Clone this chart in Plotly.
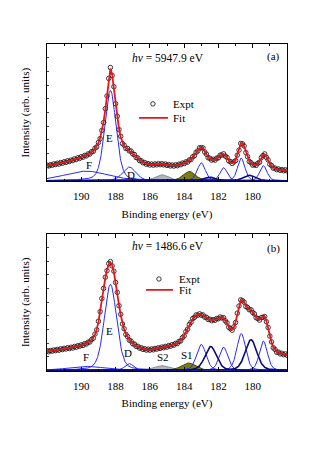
import numpy as np
import plotly.graph_objects as go
from plotly.subplots import make_subplots

# ---------------- data ----------------
energies = [round(192.0 - 0.1 * i, 1) for i in range(141)]

fit_a = [0.110,0.112,0.114,0.117,0.119,0.122,0.124,0.127,0.129,0.132,
         0.135,0.138,0.141,0.144,0.148,0.152,0.156,0.160,0.164,0.168,
         0.172,0.176,0.181,0.186,0.192,0.199,0.208,0.219,0.233,0.251,
         0.276,0.312,0.362,0.430,0.520,0.625,0.740,0.820,0.775,0.680,
         0.570,0.465,0.380,0.318,0.278,0.254,0.240,0.230,0.222,0.212,
         0.200,0.187,0.174,0.162,0.151,0.142,0.135,0.129,0.124,0.121,
         0.119,0.118,0.118,0.119,0.120,0.121,0.121,0.121,0.120,0.118,
         0.116,0.114,0.112,0.111,0.111,0.112,0.114,0.117,0.121,0.125,
         0.129,0.134,0.140,0.148,0.158,0.171,0.187,0.204,0.222,0.237,
         0.244,0.236,0.214,0.190,0.172,0.161,0.155,0.153,0.155,0.161,
         0.171,0.183,0.192,0.193,0.184,0.167,0.149,0.136,0.130,0.134,
         0.151,0.183,0.228,0.268,0.274,0.250,0.210,0.172,0.145,0.128,
         0.118,0.114,0.116,0.124,0.140,0.165,0.188,0.192,0.175,0.148,
         0.124,0.107,0.096,0.089,0.085,0.082,0.080,0.078,0.077,0.076,
         0.075]

expt_a = [0.114,0.108,0.117,0.113,0.123,0.118,0.128,0.122,0.133,0.128,
          0.139,0.134,0.146,0.140,0.151,0.147,0.160,0.155,0.168,0.163,
          0.176,0.172,0.185,0.182,0.196,0.195,0.212,0.215,0.238,0.247,
          0.280,0.308,0.368,0.425,0.527,0.620,0.748,0.828,0.770,0.688,
          0.563,0.472,0.374,0.325,0.272,0.260,0.236,0.236,0.218,0.217,
          0.196,0.192,0.170,0.166,0.147,0.146,0.131,0.133,0.120,0.125,
          0.115,0.122,0.114,0.123,0.116,0.125,0.117,0.125,0.116,0.122,
          0.112,0.118,0.108,0.115,0.107,0.116,0.110,0.121,0.117,0.129,
          0.125,0.138,0.136,0.152,0.154,0.175,0.183,0.208,0.218,0.241,
          0.240,0.240,0.210,0.194,0.168,0.165,0.151,0.157,0.151,0.165,
          0.167,0.187,0.188,0.197,0.180,0.171,0.145,0.140,0.126,0.138,
          0.147,0.187,0.224,0.272,0.270,0.254,0.206,0.176,0.141,0.132,
          0.114,0.118,0.112,0.128,0.136,0.169,0.184,0.196,0.171,0.152,
          0.120,0.111,0.092,0.093,0.081,0.086,0.076,0.082,0.073,0.080,
          0.072]

fit_b = [0.140,0.141,0.143,0.144,0.146,0.148,0.150,0.152,0.154,0.156,
         0.158,0.160,0.162,0.164,0.166,0.168,0.171,0.174,0.177,0.180,
         0.183,0.187,0.192,0.197,0.203,0.211,0.222,0.238,0.262,0.300,
         0.355,0.435,0.520,0.605,0.675,0.735,0.775,0.790,0.770,0.720,
         0.650,0.565,0.480,0.405,0.345,0.300,0.268,0.244,0.226,0.211,
         0.199,0.189,0.180,0.173,0.167,0.162,0.158,0.155,0.153,0.152,
         0.152,0.153,0.155,0.157,0.160,0.162,0.165,0.167,0.170,0.172,
         0.175,0.178,0.181,0.185,0.189,0.194,0.200,0.208,0.220,0.236,
         0.256,0.280,0.306,0.332,0.356,0.376,0.392,0.402,0.408,0.410,
         0.408,0.402,0.394,0.385,0.377,0.371,0.368,0.368,0.371,0.376,
         0.382,0.387,0.388,0.382,0.367,0.345,0.320,0.302,0.298,0.315,
         0.355,0.415,0.475,0.512,0.515,0.495,0.472,0.457,0.448,0.440,
         0.428,0.410,0.390,0.375,0.372,0.382,0.393,0.390,0.360,0.310,
         0.255,0.205,0.170,0.150,0.137,0.130,0.125,0.122,0.119,0.117,
         0.115]

expt_b = [0.144,0.137,0.146,0.141,0.150,0.145,0.154,0.148,0.158,0.153,
          0.162,0.157,0.166,0.160,0.170,0.164,0.175,0.170,0.181,0.177,
          0.187,0.183,0.196,0.194,0.207,0.208,0.226,0.235,0.266,0.297,
          0.360,0.430,0.526,0.600,0.682,0.730,0.781,0.796,0.765,0.726,
          0.644,0.571,0.474,0.411,0.340,0.305,0.264,0.248,0.222,0.215,
          0.195,0.193,0.176,0.177,0.163,0.166,0.154,0.159,0.149,0.156,
          0.148,0.157,0.151,0.161,0.156,0.166,0.161,0.171,0.166,0.176,
          0.171,0.182,0.177,0.189,0.185,0.198,0.196,0.212,0.216,0.240,
          0.252,0.284,0.302,0.336,0.352,0.380,0.388,0.406,0.404,0.414,
          0.404,0.406,0.390,0.389,0.373,0.375,0.364,0.372,0.367,0.380,
          0.378,0.391,0.384,0.386,0.363,0.349,0.316,0.306,0.294,0.319,
          0.351,0.419,0.471,0.516,0.511,0.499,0.468,0.461,0.444,0.444,
          0.424,0.414,0.386,0.379,0.368,0.386,0.389,0.394,0.356,0.314,
          0.251,0.209,0.166,0.154,0.133,0.134,0.121,0.126,0.115,0.121,
          0.111]

# fitted component peaks: kind, centre (eV), height, FWHM (eV)
comp_kind = ["blue", "blue", "blue", "gray", "olive", "blue", "blue", "blue", "blue", "navy", "navy"]
comp_center_a = [189.7, 188.3, 187.2, 185.3, 183.7, 183.0, 181.7, 180.67, 179.38, 182.5, 180.2]
comp_height_a = [0.070, 0.660, 0.100, 0.044, 0.068, 0.130, 0.095, 0.165, 0.110, 0.025, 0.040]
comp_fwhm_a   = [3.0, 0.78, 0.9, 0.9, 0.85, 0.55, 0.5, 0.5, 0.5, 0.8, 0.8]

comp_center_b = [189.7, 188.3, 187.2, 185.3, 183.75, 183.0, 181.7, 180.67, 179.38, 182.45, 180.1]
comp_height_b = [0.030, 0.630, 0.050, 0.035, 0.055, 0.190, 0.170, 0.270, 0.215, 0.175, 0.225]
comp_fwhm_b   = [2.5, 0.85, 0.6, 1.1, 1.0, 0.65, 0.6, 0.6, 0.55, 0.8, 0.8]

photon_energy = ["5947.9", "1486.6"]
panel_tags = ["(a)", "(b)"]
peak_labels_a = [("F", 189.55, 0.117), ("E", 188.38, 0.314), ("D", 187.1, 0.044)]
peak_labels_b = [("F", 189.72, 0.10), ("E", 188.38, 0.29), ("D", 187.27, 0.124),
                 ("S2", 185.23, 0.095), ("S1", 183.83, 0.116)]

# ---------------- figure ----------------
FONT = "Liberation Serif"
fig = make_subplots(rows=2, cols=1, vertical_spacing=0.1604)

fine = np.linspace(192.0, 178.0, 701)

def pvoigt(x, c, h, w, eta=0.3):
    d = (x - c) / w
    return h * (eta / (1 + 4 * d * d) + (1 - eta) * np.exp(-4 * np.log(2) * d * d))

style = {
    "blue": dict(line=dict(color="#2a2af5", width=1.0)),
    "navy": dict(line=dict(color="#0a0a78", width=1.6)),
    "gray": dict(line=dict(color="#8a8a9a", width=1.0), fill="tozeroy", fillcolor="#b4b4bc"),
    "olive": dict(line=dict(color="#4a4a08", width=1.0), fill="tozeroy", fillcolor="#7c7c14"),
}

panels = [
    (comp_center_a, comp_height_a, comp_fwhm_a, expt_a, fit_a),
    (comp_center_b, comp_height_b, comp_fwhm_b, expt_b, fit_b),
]

for r, (cc, hh, ww, ex, ft) in enumerate(panels, start=1):
    for k, c, h, w in zip(comp_kind, cc, hh, ww):
        fig.add_trace(go.Scatter(x=fine, y=pvoigt(fine, c, h, w), mode="lines",
                                 showlegend=False, hoverinfo="skip", **style[k]), row=r, col=1)
    fig.add_trace(go.Scatter(x=energies, y=ex, mode="markers", showlegend=False,
                             marker=dict(symbol="circle-open", size=4.5, color="#222222",
                                         line=dict(width=0.9, color="#222222"))), row=r, col=1)
    fig.add_trace(go.Scatter(x=energies, y=ft, mode="lines", showlegend=False,
                             line=dict(color="#e8141a", width=1.8)), row=r, col=1)

for r in (1, 2):
    fig.update_xaxes(row=r, col=1, range=[192, 178], tickvals=[190, 188, 186, 184, 182, 180],
                     ticks="inside", ticklen=4, tickwidth=1, tickcolor="black",
                     minor=dict(dtick=1, ticks="inside", ticklen=2, tickcolor="black"),
                     showline=True, linecolor="black", linewidth=1, mirror="allticks",
                     showgrid=False, zeroline=False, ticklabelstandoff=5,
                     tickfont=dict(family=FONT, size=11, color="black"),
                     title=dict(text="Binding energy (eV)", standoff=8,
                                font=dict(family=FONT, size=11, color="black")))
    fig.update_yaxes(row=r, col=1, range=[-0.004, 1.0], showticklabels=False,
                     ticks="inside", ticklen=2, tickwidth=0.8, dtick=0.1, tickcolor="#444444",
                     showline=True, linecolor="black", linewidth=1, mirror=True,
                     showgrid=False, zeroline=False,
                     title=dict(text="Intensity (arb. units)", standoff=14,
                                font=dict(family=FONT, size=11, color="black")))

ann = []
legend_pos = [(185.82, 0.562, 186.63, 184.94, 0.46, 184.77),
              (185.47, 0.669, 186.22, 184.65, 0.589, 184.42)]
shapes = []
for i, (xr, yr) in enumerate([("x", "y"), ("x2", "y2")]):
    ann.append(dict(x=184.94, y=0.90 if i == 0 else 0.909, xref=xr, yref=yr, showarrow=False,
                    text="<i>h\u03bd</i> = " + photon_energy[i] + " eV",
                    font=dict(family=FONT, size=11.5, color="black")))
    ann.append(dict(x=178.81, y=0.905 if i == 0 else 0.895, xref=xr, yref=yr, showarrow=False,
                    text=panel_tags[i], font=dict(family=FONT, size=11, color="black")))
    for t, xx, yy in (peak_labels_a if i == 0 else peak_labels_b):
        ann.append(dict(x=xx, y=yy, xref=xr, yref=yr, showarrow=False, text=t,
                        font=dict(family=FONT, size=11, color="black")))
    mx, my, lx0, lx1, ly, tx = legend_pos[i]
    shapes.append(dict(type="circle", xref=xr, yref=yr, xsizemode="pixel", ysizemode="pixel",
                       xanchor=mx, yanchor=my, x0=-2.2, x1=2.2, y0=-2.2, y1=2.2,
                       line=dict(color="#222222", width=0.9)))
    shapes.append(dict(type="line", xref=xr, yref=yr, x0=lx0, x1=lx1, y0=ly, y1=ly,
                       line=dict(color="#e8141a", width=1.8)))
    ann.append(dict(x=tx, y=my, xref=xr, yref=yr, showarrow=False, xanchor="left", text="Expt",
                    font=dict(family=FONT, size=11, color="black")))
    ann.append(dict(x=tx, y=ly, xref=xr, yref=yr, showarrow=False, xanchor="left", text="Fit",
                    font=dict(family=FONT, size=11, color="black")))

# the page body adds an 8 px offset, so the figure is drawn 8 px smaller at top/left
fig.update_layout(width=309, height=446, margin=dict(l=39, r=30, t=36, b=83),
                  paper_bgcolor="white", plot_bgcolor="white", showlegend=False,
                  annotations=ann, shapes=shapes, font=dict(family=FONT))

fig.write_html("out.html")
